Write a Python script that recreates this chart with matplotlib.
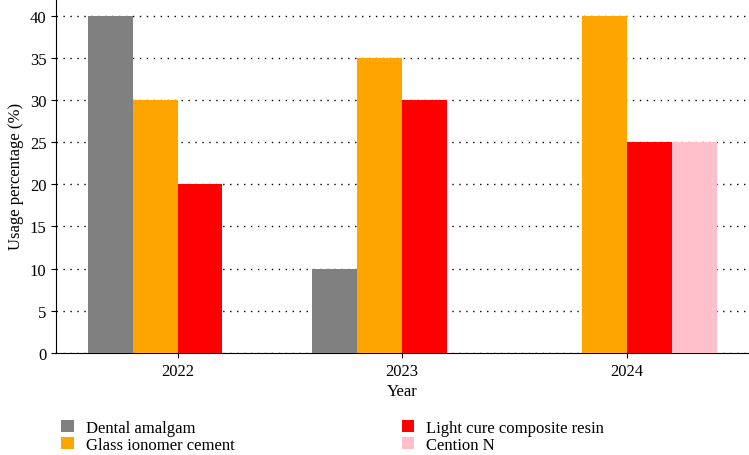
import numpy as np
import matplotlib.pyplot as plt

plt.rcParams['font.family'] = ['Liberation Serif', 'DejaVu Serif']

#---datos----------------------------------------------------------

years = ['2022', '2023', '2024']
series = ['Dental amalgam', 'Glass ionomer cement',
          'Light cure composite resin', 'Cention N']
amalgam = [40, 10, 0]
gic = [30, 35, 40]
composite = [20, 30, 25]
cention = [0, 0, 25]
colors = ['gray', 'orange', 'red', 'pink']

#---grafico--------------------------------------------------------

fig = plt.figure(figsize=(7.49, 4.56), dpi=100)
ax = fig.add_axes([0.075, 0.224, 0.924, 0.776])

x = np.arange(len(years))
w = 0.2
valores = [amalgam, gic, composite, cention]
for i in range(4):
	ax.bar(x + (i - 1.5)*w, valores[i], w, color=colors[i], label=series[i], zorder=3)

ax.set_xlim(-0.54, 2.54)
ax.set_ylim(0, 42)
ax.set_yticks(range(0, 41, 5))
ax.set_xticks(x)
ax.set_xticklabels(years)
ax.tick_params(labelsize=12)
ax.yaxis.grid(True, linestyle=(0, (1, 4)), color='black', linewidth=1)
ax.set_axisbelow(True)
ax.spines['top'].set_visible(False)
ax.spines['right'].set_visible(False)
ax.set_xlabel('Year', fontsize=12, labelpad=3)
ax.set_ylabel('Usage percentage (%)', fontsize=12)

fig.legend(loc='lower left', bbox_to_anchor=(0.062, -0.028), ncol=2, frameon=False,
           fontsize=12, columnspacing=10.05, handlelength=0.75, handleheight=0.75,
           handletextpad=0.7, labelspacing=0.05)

plt.savefig('out.png', dpi=100)
